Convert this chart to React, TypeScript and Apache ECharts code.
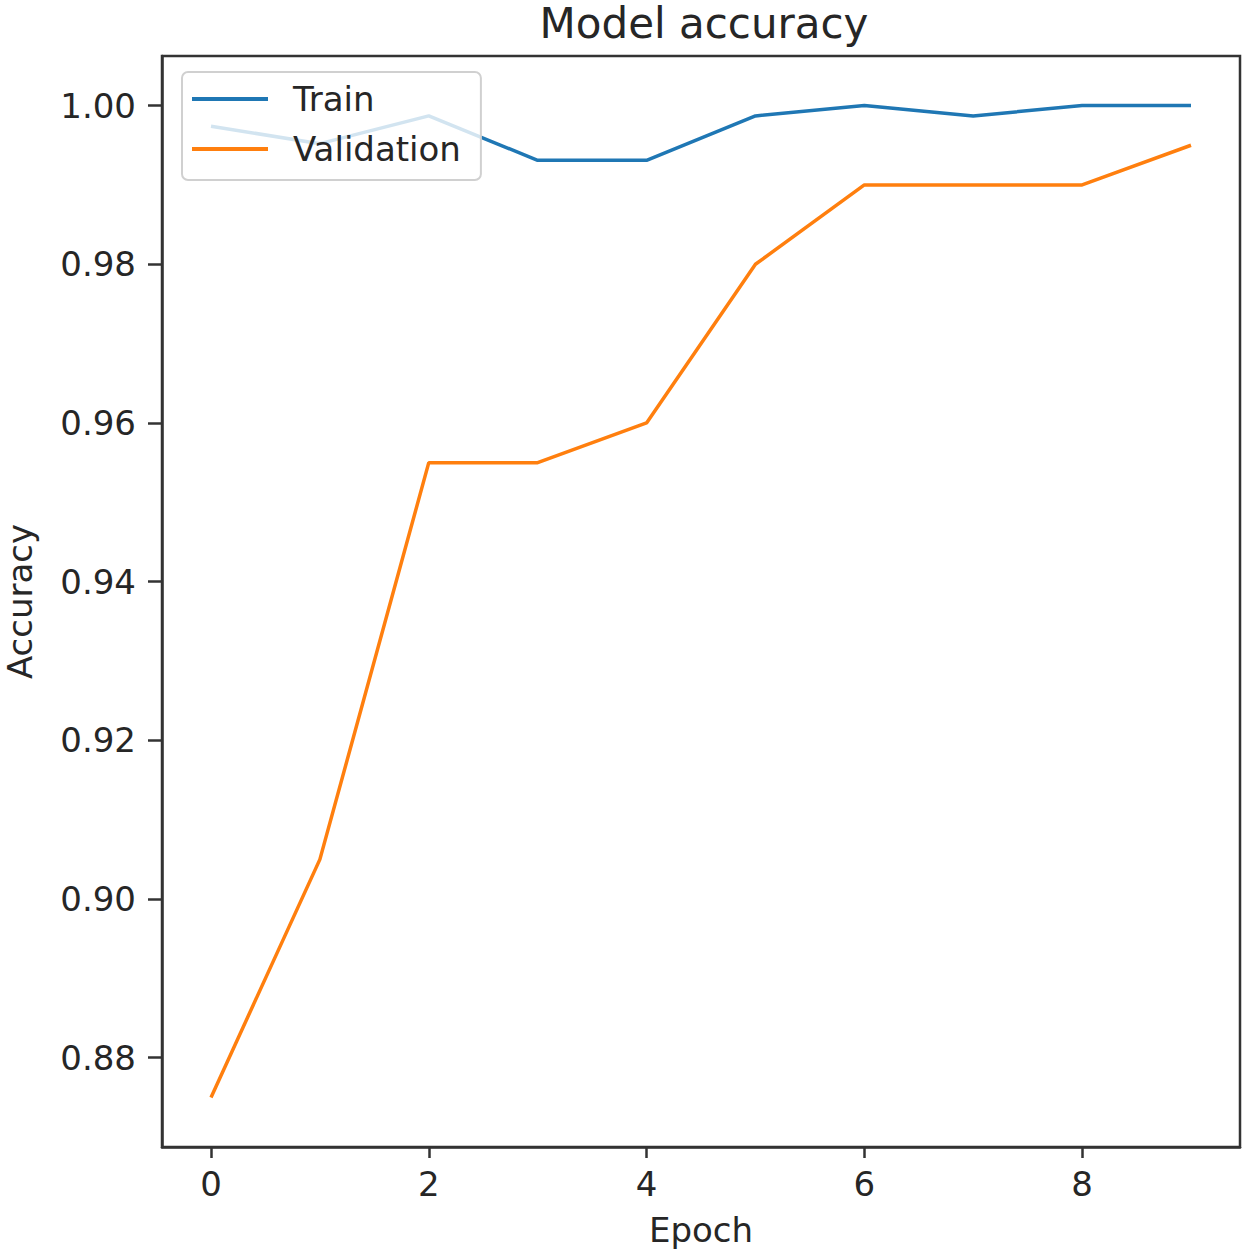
import React, { useEffect, useRef } from "react";
import * as echarts from "echarts";

const epochs = [0, 1, 2, 3, 4, 5, 6, 7, 8, 9];
const trainAcc = [0.9974, 0.9952, 0.9987, 0.9931, 0.9931, 0.9987, 1.0, 0.9987, 1.0, 1.0];
const valAcc = [0.875, 0.905, 0.955, 0.955, 0.96, 0.98, 0.99, 0.99, 0.99, 0.995];
const xTicks = [0, 2, 4, 6, 8];
const yTicks = [0.88, 0.9, 0.92, 0.94, 0.96, 0.98, 1.0];

const FONT = "DejaVu Sans";
const TXT = "#262626";
const AX = "#333333";

export default function App() {
  const ref = useRef<HTMLDivElement>(null);
  useEffect(() => {
    if (!ref.current) return;
    const chart = echarts.init(ref.current, undefined, { renderer: "svg" });
    chart.setOption({
      animation: false,
      backgroundColor: "#ffffff",
      textStyle: { fontFamily: FONT },
      title: {
        text: "Model accuracy",
        left: 699,
        textAlign: "center",
        top: -3,
        textStyle: { fontFamily: FONT, fontSize: 42, fontWeight: "normal", color: TXT },
      },
      legend: {
        orient: "vertical",
        left: 182,
        top: 72,
        padding: [10, 20, 14, 10],
        itemGap: 16,
        itemWidth: 76,
        itemHeight: 4,
        icon: "rect",
        backgroundColor: "rgba(255,255,255,0.8)",
        borderColor: "#d0d0d0",
        borderWidth: 2,
        borderRadius: 6,
        textStyle: {
          fontFamily: FONT,
          fontSize: 34,
          color: TXT,
          lineHeight: 30,
          padding: [0, 0, 0, 20],
        },
        data: ["Train", "Validation"],
      },
      grid: {
        left: 162,
        right: 10,
        top: 56,
        bottom: 111,
        outerBoundsMode: "none",
        containLabel: false,
        show: true,
        borderColor: AX,
        borderWidth: 2.5,
        backgroundColor: "transparent",
      },
      xAxis: {
        type: "value",
        min: -0.45,
        max: 9.45,
        name: "Epoch",
        nameLocation: "middle",
        nameGap: 66,
        nameTextStyle: { fontFamily: FONT, fontSize: 34, color: TXT },
        axisLine: { show: true, onZero: false, lineStyle: { color: AX, width: 2.5 } },
        axisTick: { show: true, length: 11, customValues: xTicks, lineStyle: { color: AX, width: 2.5 } },
        axisLabel: {
          customValues: xTicks,
          margin: 20,
          fontFamily: FONT,
          fontSize: 34,
          color: TXT,
        },
        splitLine: { show: false },
      },
      yAxis: {
        type: "value",
        min: 0.86875,
        max: 1.00625,
        name: "Accuracy",
        nameLocation: "middle",
        nameGap: 125,
        nameRotate: 90,
        nameTextStyle: { fontFamily: FONT, fontSize: 34, color: TXT },
        axisLine: { show: true, onZero: false, lineStyle: { color: AX, width: 2.5 } },
        axisTick: { show: true, length: 14, customValues: yTicks, lineStyle: { color: AX, width: 2.5 } },
        axisLabel: {
          customValues: yTicks,
          margin: 26,
          fontFamily: FONT,
          fontSize: 34,
          color: TXT,
          formatter: (v: number) => v.toFixed(2),
        },
        splitLine: { show: false },
      },
      series: [
        {
          name: "Train",
          type: "line",
          data: epochs.map((e, i) => [e, trainAcc[i]]),
          showSymbol: false,
          symbol: "none",
          lineStyle: { color: "#1f77b4", width: 3.5 },
          itemStyle: { color: "#1f77b4" },
          z: 2,
        },
        {
          name: "Validation",
          type: "line",
          data: epochs.map((e, i) => [e, valAcc[i]]),
          showSymbol: false,
          symbol: "none",
          lineStyle: { color: "#ff7f0e", width: 3.5 },
          itemStyle: { color: "#ff7f0e" },
          z: 3,
        },
      ],
    });
    return () => chart.dispose();
  }, []);
  return (
    <div
      ref={ref}
      style={{ position: "absolute", left: 0, top: 0, width: 1250, height: 1258 }}
    />
  );
}
